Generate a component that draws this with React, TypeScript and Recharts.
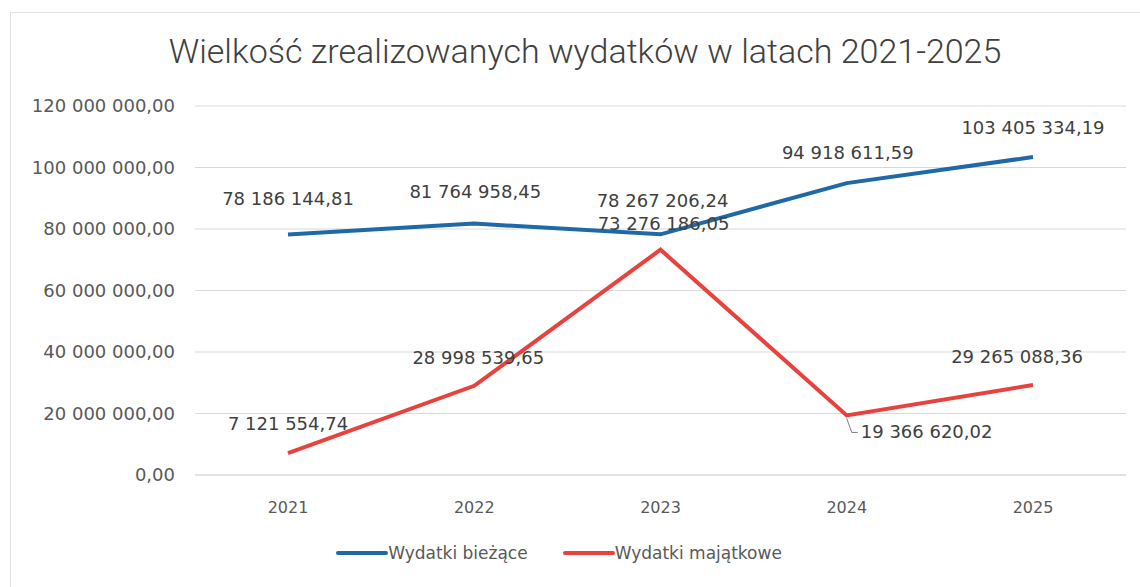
import { CartesianGrid, Legend, Line, LineChart, LabelList, XAxis, YAxis } from "recharts";

const years = ["2021", "2022", "2023", "2024", "2025"];
const biezace = [78186144.81, 81764958.45, 78267206.24, 94918611.59, 103405334.19];
const majatkowe = [7121554.74, 28998539.65, 73276186.05, 19366620.02, 29265088.36];
const yTicks = [0, 20000000, 40000000, 60000000, 80000000, 100000000, 120000000];

const data = years.map((y, i) => ({
  name: y,
  biezace: biezace[i],
  majatkowe: majatkowe[i],
}));

const fmt = (v: number) => {
  const [int, dec] = v.toFixed(2).split(".");
  return int.replace(/\B(?=(\d{3})+(?!\d))/g, " ") + "," + dec;
};

const FONT = "'DejaVu Sans', sans-serif";
const BLUE = "#1F69A6";
const RED = "#E8423F";

// label nudges per point, tuned by eye
const blueOff = [
  [0, -36], [1, -32], [2, -33], [1, -30], [0, -29],
];
const redOff = [
  [0, -29], [4, -28], [3, -26], [0, 0], [-16, -28],
];

const makeLabel = (offs: number[][], leader: number) => (props: any) => {
  const { x, y, value, index } = props;
  if (index === leader) {
    return (
      <g>
        <polyline
          points={`${x},${y + 3} ${x + 5},${y + 17} ${x + 11},${y + 17}`}
          fill="none"
          stroke="#7f7f7f"
          strokeWidth={1}
        />
        <text x={x + 14} y={y + 17} dy={6} fontSize={18} fill="#404040" fontFamily={FONT}>
          {fmt(value)}
        </text>
      </g>
    );
  }
  const [dx, dy] = offs[index];
  return (
    <text
      x={x + dx}
      y={y + dy}
      dy={6}
      textAnchor="middle"
      fontSize={18}
      fill="#404040"
      fontFamily={FONT}
    >
      {fmt(value)}
    </text>
  );
};

const LegendBox = () => (
  <div
    style={{
      display: "flex",
      justifyContent: "center",
      gap: 35,
      height: 20,
      lineHeight: "20px",
      fontFamily: FONT,
      fontSize: 17,
      color: "#595959",
      paddingRight: 8,
    }}
  >
    {[["Wydatki bieżące", BLUE], ["Wydatki majątkowe", RED]].map(([n, c]) => (
      <div key={n} style={{ display: "flex", alignItems: "center" }}>
        <span style={{ display: "inline-block", width: 52, height: 4, background: c, borderRadius: 2 }} />
        <span>{n}</span>
      </div>
    ))}
  </div>
);

const App = () => {
  return (
    <div style={{ position: "absolute", left: 0, top: 0, width: 1140, height: 587, background: "#fff" }}>
      <div
        style={{
          position: "absolute",
          left: 10,
          top: 12,
          width: 1140,
          height: 600,
          border: "1px solid #e3e3e3",
          boxSizing: "border-box",
        }}
      />
      <div
        style={{
          position: "absolute",
          top: 31,
          left: 0,
          width: 1170,
          textAlign: "center",
          fontFamily: "Roboto, sans-serif",
          fontWeight: 300,
          fontSize: 34,
          color: "#404040",
        }}
      >
        Wielkość zrealizowanych wydatków w latach 2021-2025
      </div>
      <div style={{ position: "absolute", left: 0, top: 0 }}>
        <LineChart
          width={1140}
          height={587}
          data={data}
          margin={{ top: 106, right: 14, left: 0, bottom: 24 }}
        >
          <CartesianGrid vertical={false} stroke="#d9d9d9" />
          <XAxis
            dataKey="name"
            axisLine={{ stroke: "#d9d9d9" }}
            tickLine={false}
            padding={{ left: 93, right: 93 }}
            tick={{ fill: "#595959", fontSize: 16, fontFamily: FONT }}
            tickMargin={21}
            height={68}
          />
          <YAxis
            width={195}
            domain={[0, 120000000]}
            ticks={yTicks}
            axisLine={false}
            tickLine={false}
            tickFormatter={fmt}
            tickMargin={14}
            tick={{ fill: "#595959", fontSize: 18, fontFamily: FONT }}
          />
          <Legend verticalAlign="bottom" content={<LegendBox />} />
          <Line
            type="linear"
            dataKey="biezace"
            stroke={BLUE}
            strokeWidth={4}
            dot={false}
            isAnimationActive={false}
          >
            <LabelList dataKey="biezace" content={makeLabel(blueOff, -1)} />
          </Line>
          <Line
            type="linear"
            dataKey="majatkowe"
            stroke={RED}
            strokeWidth={4}
            dot={false}
            isAnimationActive={false}
          >
            <LabelList dataKey="majatkowe" content={makeLabel(redOff, 3)} />
          </Line>
        </LineChart>
      </div>
    </div>
  );
};

export default App;
